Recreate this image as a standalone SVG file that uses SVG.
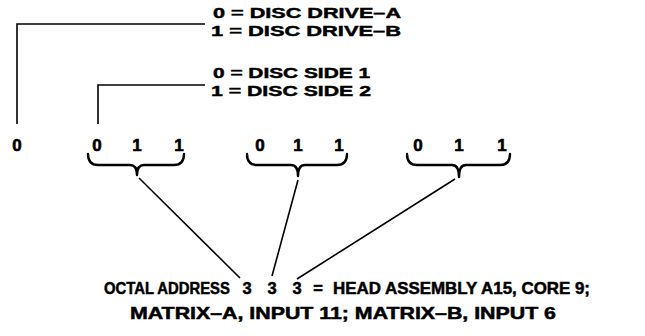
<svg xmlns="http://www.w3.org/2000/svg" width="645" height="336" viewBox="0 0 645 336">
  <style>
    .t { font-family: "Liberation Sans", Arial, sans-serif; font-weight: bold; font-size: 15px; fill: #000; stroke: #000; stroke-width: 0.45; }
    .b { font-family: "Liberation Sans", Arial, sans-serif; font-weight: bold; font-size: 16.5px; fill: #000; stroke: #000; stroke-width: 0.5; }
    .m { text-anchor: middle; }
    .d { font-family: "Liberation Sans", Arial, sans-serif; font-weight: bold; font-size: 17px; fill: #000; stroke: #000; stroke-width: 0.6; text-anchor: middle; }
    .ln { fill: none; stroke: #000; stroke-width: 1.6; }
    .br { fill: none; stroke: #000; stroke-width: 2.4; stroke-linejoin: round; stroke-linecap: round; }
  </style>
  <rect width="645" height="336" fill="#fff"/>

  <!-- bit-field legends -->
  <g id="drive-legend">
    <text class="t" x="213" y="18" textLength="188" lengthAdjust="spacingAndGlyphs">0 = DISC DRIVE–A</text>
    <text class="t" x="211" y="36" textLength="190" lengthAdjust="spacingAndGlyphs">1 = DISC DRIVE–B</text>
  </g>
  <g id="side-legend">
    <text class="t" x="213" y="78" textLength="157" lengthAdjust="spacingAndGlyphs">0 = DISC SIDE 1</text>
    <text class="t" x="211" y="96" textLength="160" lengthAdjust="spacingAndGlyphs">1 = DISC SIDE 2</text>
  </g>

  <!-- binary digits -->
  <g id="bit-drive">
    <text class="d" x="17" y="151">0</text>
  </g>
  <g id="group-1">
    <text class="d" x="97" y="151">0</text>
    <text class="d" x="137" y="151">1</text>
    <text class="d" x="179" y="151">1</text>
    <path class="br" d="M88,154 Q88,165 98,165 L130,165 Q137,165 137,175 Q137,165 144,165 L174,165 Q184,165 184,154"/>
  </g>
  <g id="group-2">
    <text class="d" x="260" y="151">0</text>
    <text class="d" x="298" y="151">1</text>
    <text class="d" x="339" y="151">1</text>
    <path class="br" d="M247,154 Q247,165 257,165 L291,165 Q298,165 298,176 Q298,165 305,165 L337,165 Q347,165 347,154"/>
  </g>
  <g id="group-3">
    <text class="d" x="418" y="151">0</text>
    <text class="d" x="459" y="151">1</text>
    <text class="d" x="502" y="151">1</text>
    <path class="br" d="M407,154 Q407,165 417,165 L452,165 Q459,165 459,177 Q459,165 466,165 L500,165 Q510,165 510,154"/>
  </g>

  <!-- resulting octal address -->
  <g id="octal-address">
    <text class="b" transform="translate(104,294) scale(0.9,1)" x="0" y="0">OCTAL ADDRESS</text>
    <text class="b m" x="247" y="294">3</text>
    <text class="b m" x="272" y="294">3</text>
    <text class="b m" x="297" y="294">3</text>
    <text class="b m" x="318" y="294">=</text>
    <text class="b" x="333" y="294" textLength="257" lengthAdjust="spacingAndGlyphs">HEAD ASSEMBLY A15, CORE 9;</text>
    <text class="b" x="130" y="319" textLength="426" lengthAdjust="spacingAndGlyphs">MATRIX–A, INPUT 11; MATRIX–B, INPUT 6</text>
  </g>

  <!-- connectors -->
  <g id="connectors">
    <path class="ln" d="M17,124 V24 H205"/>
    <path class="ln" d="M98,124 V85 H205"/>
    <path class="ln" d="M139,178 L240,278"/>
    <path class="ln" d="M298,180 L272,276"/>
    <path class="ln" d="M455,179 L297,279"/>
  </g>
</svg>
